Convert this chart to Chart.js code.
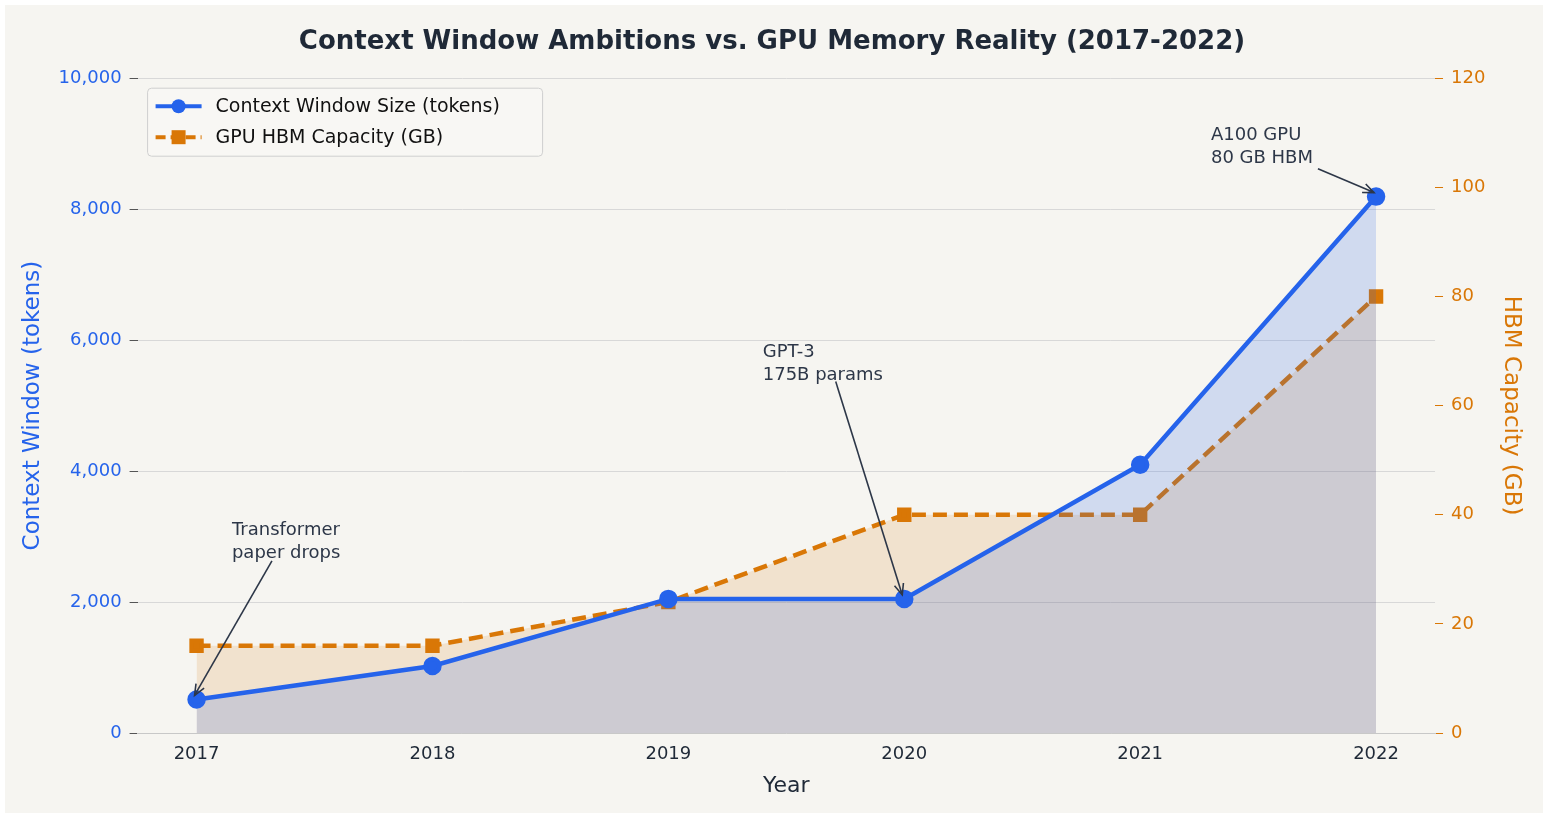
<!DOCTYPE html>
<html>
<head>
<meta charset="utf-8">
<script src="https://cdn.jsdelivr.net/npm/chart.js@4"></script>
<style>
  html, body { margin: 0; padding: 0; background: #fff; }
  #wrap { position: absolute; left: 5px; top: 5px; width: 1538px; height: 808px; background: #f6f5f1; }
</style>
</head>
<body>
<div id="wrap"><canvas id="myChart" width="1538" height="808"></canvas></div>
<script>
const years = [2017, 2018, 2019, 2020, 2021, 2022];
const contextTokens = [512, 1024, 2048, 2048, 4096, 8192];
const hbmGB = [16, 16, 24, 40, 40, 80];
const notes = [
  { lines: ['Transformer', 'paper drops'], tx: 2017.15, ty: 3240, i: 0, fromDx: 40, fromDy: 40 },
  { lines: ['GPT-3', '175B params'], tx: 2019.40, ty: 5950, i: 3, fromDx: 73, fromDy: 38 },
  { lines: ['A100 GPU', '80 GB HBM'], tx: 2021.30, ty: 9260, i: 5, fromDx: 107, fromDy: 42 }
];

const blue = '#2563eb';
const orange = '#d97706';
const ink = '#1f2937';

const pts = (arr) => years.map((y, i) => ({ x: y, y: arr[i] }));

const overlay = {
  id: 'overlay',
  afterDatasetsDraw(chart) {
    const { ctx, scales: { x, y } } = chart;
    ctx.save();
    ctx.font = '18px "DejaVu Sans"';
    ctx.fillStyle = '#2d3748';
    ctx.strokeStyle = '#2d3748';
    ctx.lineWidth = 1.6;
    ctx.textBaseline = 'top';
    notes.forEach(n => {
      const px = x.getPixelForValue(n.tx);
      const py = y.getPixelForValue(n.ty);
      n.lines.forEach((l, k) => ctx.fillText(l, px, py + k * 23));
      const sx = px + n.fromDx, sy = py + n.fromDy;
      const ex = x.getPixelForValue(years[n.i]) - 2;
      const ey = y.getPixelForValue(contextTokens[n.i]) - 4;
      ctx.beginPath(); ctx.moveTo(sx, sy); ctx.lineTo(ex, ey); ctx.stroke();
      const a = Math.atan2(ey - sy, ex - sx);
      ctx.beginPath();
      ctx.moveTo(ex - 12 * Math.cos(a - 0.4), ey - 12 * Math.sin(a - 0.4));
      ctx.lineTo(ex, ey);
      ctx.lineTo(ex - 12 * Math.cos(a + 0.4), ey - 12 * Math.sin(a + 0.4));
      ctx.stroke();
    });
    // legend
    const lx = chart.chartArea.left + 10, ly = chart.chartArea.top + 10;
    ctx.fillStyle = 'rgba(248,247,244,0.9)';
    ctx.strokeStyle = '#cfcfcf';
    ctx.lineWidth = 1;
    ctx.beginPath(); ctx.roundRect(lx, ly, 395, 68, 4); ctx.fill(); ctx.stroke();
    ctx.font = '19px "DejaVu Sans"';
    ctx.textBaseline = 'middle';
    ctx.lineWidth = 4;
    ctx.strokeStyle = blue; ctx.setLineDash([]);
    ctx.beginPath(); ctx.moveTo(lx + 8, ly + 18); ctx.lineTo(lx + 54, ly + 18); ctx.stroke();
    ctx.fillStyle = blue; ctx.beginPath(); ctx.arc(lx + 31, ly + 18, 7, 0, Math.PI * 2); ctx.fill();
    ctx.strokeStyle = orange; ctx.setLineDash([10, 5]);
    ctx.beginPath(); ctx.moveTo(lx + 8, ly + 49); ctx.lineTo(lx + 54, ly + 49); ctx.stroke();
    ctx.setLineDash([]);
    ctx.fillStyle = orange; ctx.fillRect(lx + 24, ly + 42, 14, 14);
    ctx.fillStyle = '#111';
    ctx.fillText('Context Window Size (tokens)', lx + 68, ly + 19);
    ctx.fillText('GPU HBM Capacity (GB)', lx + 68, ly + 50);
    ctx.restore();
  }
};

new Chart(document.getElementById('myChart'), {
  type: 'line',
  data: {
    datasets: [
      {
        label: 'Context Window Size (tokens)',
        data: pts(contextTokens),
        yAxisID: 'y',
        borderColor: blue,
        backgroundColor: 'rgba(37,99,235,0.18)',
        pointBackgroundColor: blue,
        pointBorderColor: blue,
        pointRadius: 7,
        borderWidth: 4.5,
        fill: 'origin',
        order: 1
      },
      {
        label: 'GPU HBM Capacity (GB)',
        data: pts(hbmGB),
        yAxisID: 'y1',
        borderColor: orange,
        backgroundColor: 'rgba(217,119,6,0.15)',
        pointBackgroundColor: orange,
        pointBorderColor: orange,
        pointStyle: 'rect',
        pointRadius: 7,
        borderWidth: 4.5,
        borderDash: [14, 7],
        fill: 'origin',
        order: 2
      }
    ]
  },
  options: {
    responsive: false,
    animation: false,
    devicePixelRatio: 1,
    layout: { padding: { left: 10, right: 14, top: 4, bottom: 10 } },
    plugins: {
      legend: { display: false },
      tooltip: { enabled: false },
      title: {
        display: true,
        text: 'Context Window Ambitions vs. GPU Memory Reality (2017-2022)',
        color: ink,
        font: { family: 'DejaVu Sans', size: 26, weight: 'bold' },
        padding: { top: 18, bottom: 20 }
      }
    },
    scales: {
      x: {
        type: 'linear',
        min: 2016.75, max: 2022.25,
        afterBuildTicks: (s) => { s.ticks = years.map(v => ({ value: v })); },
        ticks: { color: ink, font: { family: 'DejaVu Sans', size: 18 }, callback: v => String(v) },
        grid: { display: false, drawTicks: true, tickLength: 8 },
        border: { color: '#c8c8c8' },
        title: { display: true, text: 'Year', color: ink, font: { family: 'DejaVu Sans', size: 22 } }
      },
      y: {
        position: 'left',
        min: 0, max: 10000,
        ticks: { stepSize: 2000, color: blue, font: { family: 'DejaVu Sans', size: 18 }, padding: 8,
          callback: v => v.toLocaleString('en-US') },
        grid: { color: '#d8d8d8', tickColor: '#555', tickLength: 8 },
        border: { display: false },
        title: { display: true, text: 'Context Window (tokens)', color: blue, font: { family: 'DejaVu Sans', size: 23 } }
      },
      y1: {
        position: 'right',
        min: 0, max: 120,
        ticks: { stepSize: 20, color: orange, font: { family: 'DejaVu Sans', size: 18 }, padding: 8 },
        grid: { drawOnChartArea: false, tickColor: orange, tickLength: 8 },
        border: { display: false },
        title: { display: true, text: 'HBM Capacity (GB)', color: orange, font: { family: 'DejaVu Sans', size: 23 } }
      }
    }
  },
  plugins: [overlay]
});
</script>
</body>
</html>
